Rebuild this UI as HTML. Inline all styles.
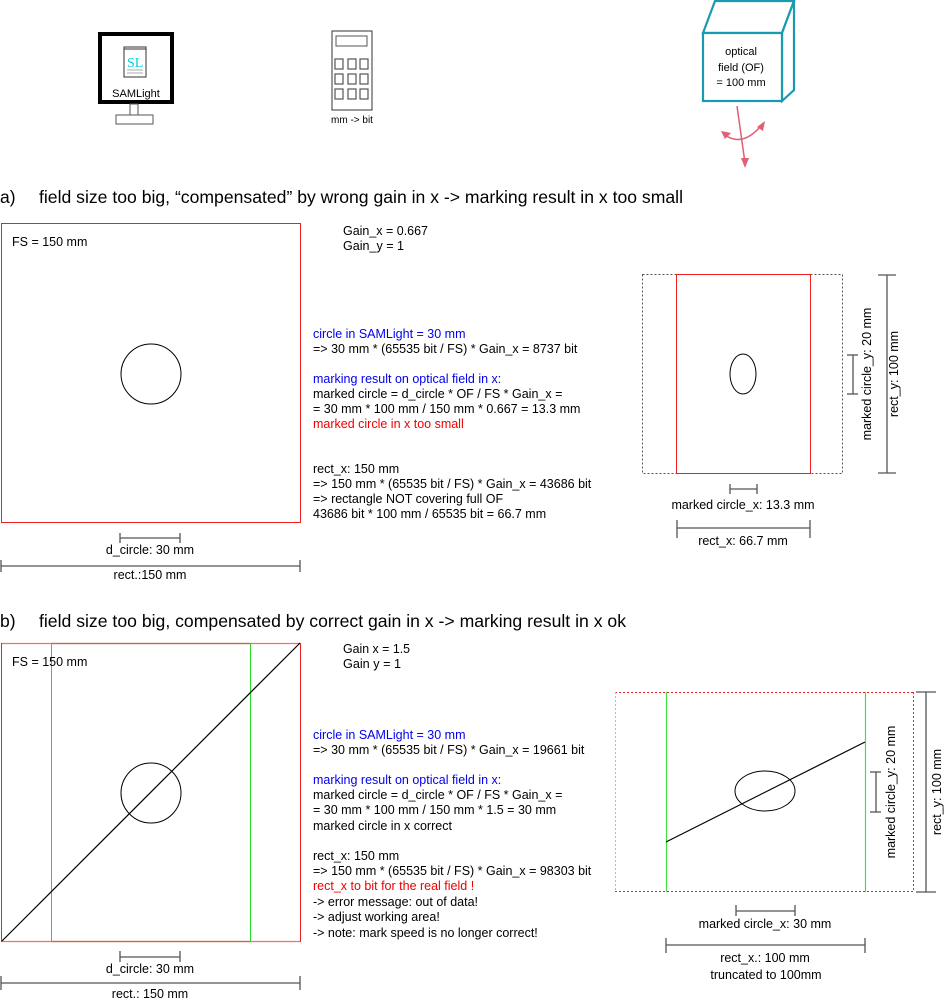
<!DOCTYPE html>
<html><head><meta charset="utf-8"><style>
html,body{margin:0;padding:0;background:#fff}
svg{display:block}
text{font-family:"Liberation Sans",Arial,sans-serif;font-size:12.5px;fill:#000}
.h{font-size:17.5px}
.b{fill:#0000ee}.r{fill:#ee0000}
</style></head><body>
<svg width="944" height="1001" viewBox="0 0 944 1001" xmlns="http://www.w3.org/2000/svg">
<!-- monitor -->
<rect x="100" y="34" width="72" height="68" fill="#fff" stroke="#000" stroke-width="4"/>
<rect x="130" y="104" width="8" height="11" fill="#fff" stroke="#555"/>
<rect x="116" y="115" width="37" height="9" fill="#fff" stroke="#555"/>
<rect x="124" y="47" width="22" height="30" fill="#fff" stroke="#333"/>
<line x1="124" y1="49" x2="146" y2="49" stroke="#333"/>
<text x="127" y="67" style="font-family:'Liberation Serif',serif;font-size:14px;fill:#00d0e0">SL</text>
<line x1="127" y1="70" x2="143" y2="70" stroke="#aaa"/><line x1="127" y1="73" x2="143" y2="73" stroke="#aaa"/>
<text x="136" y="97" text-anchor="middle" style="font-size:11px">SAMLight</text>
<!-- calculator -->
<rect x="332" y="31" width="40" height="79" fill="#fff" stroke="#333"/>
<rect x="336" y="36" width="31" height="10" fill="#fff" stroke="#555"/>
<g fill="#fff" stroke="#555" stroke-width="1.2">
<rect x="335" y="59" width="8" height="10"/><rect x="348" y="59" width="8" height="10"/><rect x="360" y="59" width="8" height="10"/>
<rect x="335" y="74" width="8" height="10"/><rect x="348" y="74" width="8" height="10"/><rect x="360" y="74" width="8" height="10"/>
<rect x="335" y="89" width="8" height="10"/><rect x="348" y="89" width="8" height="10"/><rect x="360" y="89" width="8" height="10"/>
</g>
<text x="352" y="123" text-anchor="middle" style="font-size:10px">mm -&gt; bit</text>
<!-- cube -->
<g fill="#fff" stroke="#1a9ab0" stroke-width="2.2">
<polygon points="703,33 715,1 794,1 782,33"/>
<polygon points="782,33 794,1 794,90 782,101"/>
<rect x="703" y="33" width="79" height="68"/>
</g>
<text x="741" y="55" text-anchor="middle" style="font-size:11px">optical</text>
<text x="741" y="71" text-anchor="middle" style="font-size:11px">field (OF)</text>
<text x="741" y="86" text-anchor="middle" style="font-size:11px">= 100 mm</text>
<g stroke="#e06070" stroke-width="1.5" fill="none">
<line x1="737" y1="106" x2="745" y2="163"/>
<path d="M725 135 Q742 147 760 127"/>
</g>
<g fill="#e06070">
<polygon points="745,168 741,158 749,158"/>
<polygon points="721,131 731,133 725,139"/>
<polygon points="765,121 763,131 757,127"/>
</g>
<!-- headings -->
<text class="h" x="0" y="203">a)</text>
<text class="h" x="39" y="203" textLength="644" lengthAdjust="spacingAndGlyphs">field size too big, “compensated” by wrong gain in x -&gt; marking result in x too small</text>
<text class="h" x="0" y="627">b)</text>
<text class="h" x="39" y="627" textLength="587" lengthAdjust="spacingAndGlyphs">field size too big, compensated by correct gain in x -&gt; marking result in x ok</text>

<!-- section a left -->
<rect x="1.5" y="223.5" width="299" height="299" fill="none" stroke="#ee2020"/>
<text x="12" y="246">FS = 150 mm</text>
<circle cx="151" cy="374" r="30" fill="none" stroke="#000"/>
<g stroke="#555" stroke-width="1.3">
<line x1="120" y1="538" x2="180" y2="538"/><line x1="120" y1="533" x2="120" y2="543"/><line x1="180" y1="533" x2="180" y2="543"/>
<line x1="1" y1="566" x2="300" y2="566"/><line x1="1" y1="560" x2="1" y2="572"/><line x1="300" y1="560" x2="300" y2="572"/>
</g>
<text x="150" y="554" text-anchor="middle">d_circle: 30 mm</text>
<text x="150" y="579" text-anchor="middle">rect.:150 mm</text>

<!-- text a -->
<text x="343" y="235" textLength="85" lengthAdjust="spacingAndGlyphs">Gain_x = 0.667</text>
<text x="343" y="250" textLength="61" lengthAdjust="spacingAndGlyphs">Gain_y = 1</text>
<text x="313" y="338" class="b">circle in SAMLight = 30 mm</text>
<text x="313" y="353">=&gt; 30 mm * (65535 bit / FS) * Gain_x = 8737 bit</text>
<text x="313" y="383" class="b">marking result on optical field in x:</text>
<text x="313" y="398">marked circle = d_circle * OF / FS * Gain_x =</text>
<text x="313" y="413">= 30 mm * 100 mm / 150 mm * 0.667 = 13.3 mm</text>
<text x="313" y="428" class="r">marked circle in x too small</text>
<text x="313" y="473">rect_x: 150 mm</text>
<text x="313" y="488">=&gt; 150 mm * (65535 bit / FS) * Gain_x = 43686 bit</text>
<text x="313" y="503">=&gt; rectangle NOT covering full OF</text>
<text x="313" y="518">43686 bit * 100 mm / 65535 bit = 66.7 mm</text>

<!-- section a right -->
<rect x="642.5" y="274.5" width="200" height="199" fill="none" stroke="#555" stroke-dasharray="2,2"/>
<rect x="676.5" y="274.5" width="134" height="199" fill="none" stroke="#ee2020"/>
<ellipse cx="743" cy="374" rx="13" ry="20" fill="none" stroke="#000"/>
<g stroke="#555" stroke-width="1.3">
<line x1="730" y1="489" x2="757" y2="489"/><line x1="730" y1="484" x2="730" y2="494"/><line x1="757" y1="484" x2="757" y2="494"/>
<line x1="677" y1="528" x2="810" y2="528"/><line x1="677" y1="520" x2="677" y2="538"/><line x1="810" y1="520" x2="810" y2="538"/>
<line x1="887" y1="275" x2="887" y2="473"/><line x1="878" y1="275" x2="896" y2="275"/><line x1="878" y1="473" x2="896" y2="473"/>
<line x1="853" y1="355" x2="853" y2="394"/><line x1="847" y1="355" x2="858" y2="355"/><line x1="847" y1="394" x2="858" y2="394"/>
</g>
<text x="743" y="509" text-anchor="middle">marked circle_x: 13.3 mm</text>
<text x="743" y="545" text-anchor="middle">rect_x: 66.7 mm</text>
<text transform="translate(871,374) rotate(-90)" text-anchor="middle">marked circle_y: 20 mm</text>
<text transform="translate(898,374) rotate(-90)" text-anchor="middle">rect_y: 100 mm</text>

<!-- section b left -->
<line x1="1" y1="643.5" x2="300" y2="643.5" stroke="#f07070" stroke-width="1.3"/>
<line x1="1" y1="941.5" x2="300" y2="941.5" stroke="#f07070" stroke-width="1.3"/>
<line x1="51" y1="643.5" x2="250" y2="643.5" stroke="#b07838" stroke-width="1.3"/>
<line x1="51" y1="941.5" x2="250" y2="941.5" stroke="#b07838" stroke-width="1.3"/>
<line x1="1.5" y1="643" x2="1.5" y2="942" stroke="#ee2020"/>
<line x1="300.5" y1="643" x2="300.5" y2="942" stroke="#ee2020"/>
<line x1="51.5" y1="643" x2="51.5" y2="942" stroke="#22dd22"/>
<line x1="250.5" y1="643" x2="250.5" y2="942" stroke="#22dd22"/>
<line x1="2" y1="941" x2="300" y2="643" stroke="#000" stroke-width="1.2"/>
<circle cx="151" cy="793" r="30" fill="none" stroke="#000"/>
<text x="12" y="666">FS = 150 mm</text>
<g stroke="#555" stroke-width="1.3">
<line x1="120" y1="957" x2="180" y2="957"/><line x1="120" y1="951" x2="120" y2="962"/><line x1="180" y1="951" x2="180" y2="962"/>
<line x1="1" y1="983" x2="300" y2="983"/><line x1="1" y1="976" x2="1" y2="990"/><line x1="300" y1="976" x2="300" y2="990"/>
</g>
<text x="150" y="973" text-anchor="middle">d_circle: 30 mm</text>
<text x="150" y="998" text-anchor="middle">rect.: 150 mm</text>

<!-- text b -->
<text x="343" y="653" textLength="67" lengthAdjust="spacingAndGlyphs">Gain x = 1.5</text>
<text x="343" y="668" textLength="58" lengthAdjust="spacingAndGlyphs">Gain y = 1</text>
<text x="313" y="739" class="b">circle in SAMLight = 30 mm</text>
<text x="313" y="754">=&gt; 30 mm * (65535 bit / FS) * Gain_x = 19661 bit</text>
<text x="313" y="784" class="b">marking result on optical field in x:</text>
<text x="313" y="799">marked circle = d_circle * OF / FS * Gain_x =</text>
<text x="313" y="814">= 30 mm * 100 mm / 150 mm * 1.5 = 30 mm</text>
<text x="313" y="830">marked circle in x correct</text>
<text x="313" y="860">rect_x: 150 mm</text>
<text x="313" y="875">=&gt; 150 mm * (65535 bit / FS) * Gain_x = 98303 bit</text>
<text x="313" y="890" class="r">rect_x to bit for the real field !</text>
<text x="313" y="906">-&gt; error message: out of data!</text>
<text x="313" y="921">-&gt; adjust working area!</text>
<text x="313" y="937">-&gt; note: mark speed is no longer correct!</text>

<!-- section b right -->
<line x1="615" y1="692.5" x2="914" y2="692.5" stroke="#ee2020" stroke-dasharray="2,2"/>
<line x1="615" y1="891.5" x2="914" y2="891.5" stroke="#ee2020" stroke-dasharray="2,2"/>
<line x1="615.5" y1="692" x2="615.5" y2="892" stroke="#f4a0a0" stroke-dasharray="2,2"/>
<line x1="913.5" y1="692" x2="913.5" y2="892" stroke="#ee2020" stroke-dasharray="2,2"/>
<line x1="666.5" y1="692" x2="666.5" y2="892" stroke="#44e044" stroke-width="1.2"/>
<line x1="865.5" y1="692" x2="865.5" y2="892" stroke="#44e044" stroke-width="1.2"/>
<line x1="666" y1="842" x2="865" y2="742" stroke="#000" stroke-width="1.2"/>
<ellipse cx="765" cy="791" rx="30" ry="20" fill="none" stroke="#000"/>
<g stroke="#555" stroke-width="1.3">
<line x1="736" y1="911" x2="795" y2="911"/><line x1="736" y1="905" x2="736" y2="916"/><line x1="795" y1="905" x2="795" y2="916"/>
<line x1="666" y1="945" x2="865" y2="945"/><line x1="666" y1="938" x2="666" y2="953"/><line x1="865" y1="938" x2="865" y2="953"/>
<line x1="926" y1="692" x2="926" y2="892" /><line x1="916" y1="692" x2="936" y2="692"/><line x1="916" y1="892" x2="936" y2="892"/>
<line x1="876" y1="772" x2="876" y2="812"/><line x1="870" y1="772" x2="881" y2="772"/><line x1="870" y1="812" x2="881" y2="812"/>
</g>
<text x="765" y="928" text-anchor="middle">marked circle_x: 30 mm</text>
<text x="765" y="962" text-anchor="middle">rect_x.: 100 mm</text>
<text x="766" y="979" text-anchor="middle">truncated to 100mm</text>
<text transform="translate(895,792) rotate(-90)" text-anchor="middle">marked circle_y: 20 mm</text>
<text transform="translate(941,792) rotate(-90)" text-anchor="middle">rect_y: 100 mm</text>
</svg>
</body></html>
